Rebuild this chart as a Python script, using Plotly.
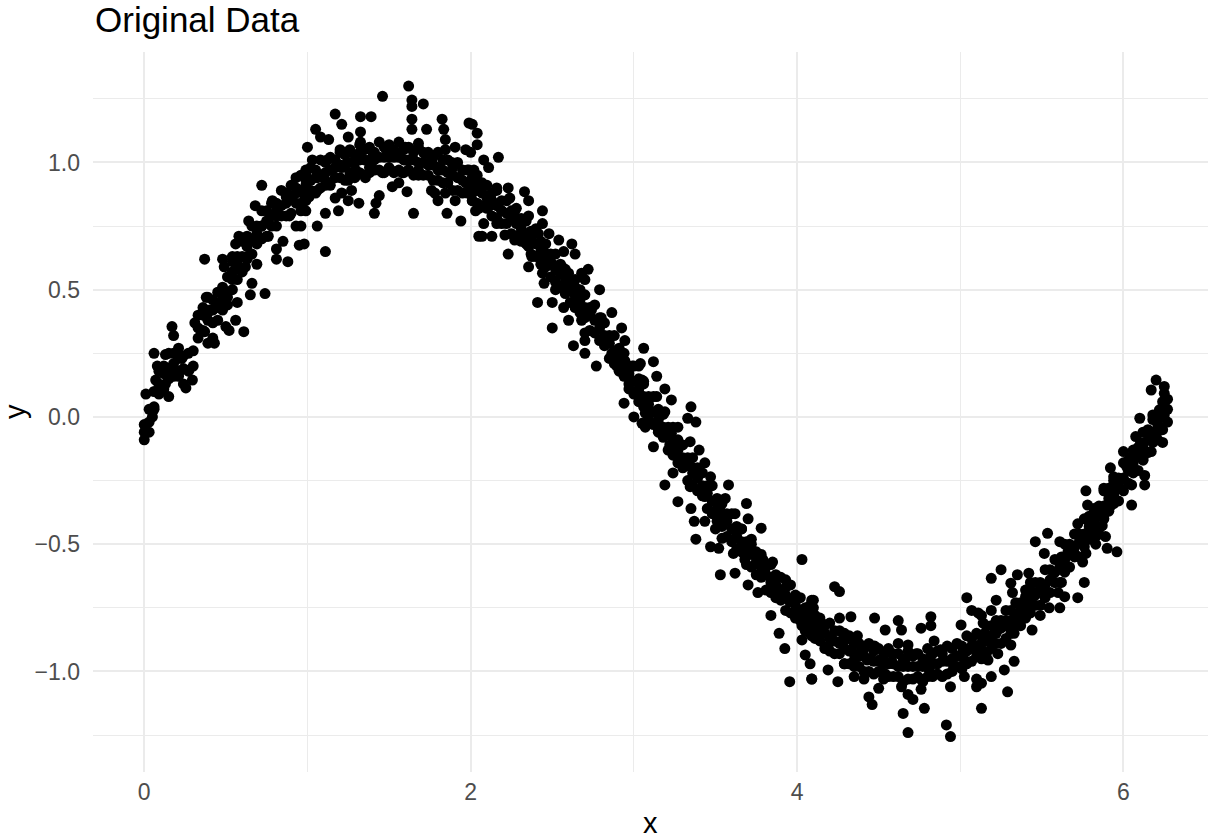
import plotly.graph_objects as go

# ---- data (x, y) ----
rise = [(0.00,-0.09),(0.00,-0.06),(0.00,-0.03),(0.05,0.00),(0.06,0.04),(0.01,0.09),(0.07,0.145),(0.11,0.105),(0.15,0.08),
        (0.06,0.25),(0.13,0.245),(0.08,0.20),(0.21,0.27),(0.23,0.23),(0.19,0.185),(0.275,0.185),(0.295,0.145),(0.255,0.114),
        (0.17,0.355),(0.18,0.32),(0.13,0.13),(0.21,0.16),(0.15,0.185),
        (0.31,0.37),(0.38,0.47),(0.36,0.41),(0.37,0.335),(0.39,0.29),(0.43,0.29),(0.42,0.31),(0.45,0.43),(0.40,0.42),
        (0.50,0.355),(0.52,0.34),(0.61,0.335),(0.56,0.38),(0.51,0.47),(0.48,0.51),(0.57,0.45),(0.54,0.50),(0.66,0.525),
        (0.65,0.48),(0.74,0.485),(0.37,0.62),(0.49,0.59),(0.48,0.62),(0.54,0.63),(0.63,0.63),(0.69,0.60),(0.62,0.59),
        (0.60,0.57),(0.56,0.68),(0.58,0.71),(0.64,0.77),(0.68,0.83),(0.72,0.91),(0.785,0.85),(0.72,0.75),(0.76,0.71),
        (0.81,0.66),(0.81,0.62),(0.88,0.61),(0.85,0.69),(0.87,0.865),(0.93,0.94),(0.97,0.88),(0.95,0.675),(0.89,0.79),
        (0.93,0.75),(0.81,0.79),(0.70,0.695)]

peak = [(0.99,0.93),(0.98,0.68),(0.99,0.81),(0.96,0.75),(1.06,0.75),(1.11,0.65),(1.00,1.06),(1.03,1.01),(1.05,1.13),
        (1.08,1.10),(1.13,1.09),(1.12,1.01),(1.17,1.19),(1.21,1.15),(1.25,1.10),(1.20,1.04),(1.325,1.18),(1.39,1.18),
        (1.325,1.12),(1.325,1.08),(1.46,1.26),(1.62,1.30),(1.64,1.245),(1.64,1.22),(1.71,1.23),(1.64,1.17),(1.64,1.13),
        (1.73,1.13),(1.825,1.17),(1.835,1.13),(1.845,1.09),(1.99,1.155),(2.04,1.115),(2.05,0.71),(1.94,0.77),(1.855,0.80),
        (1.78,0.88),(1.80,0.85),(1.65,0.80),(1.61,0.885),(1.56,0.92),(1.41,0.80),(1.44,0.87),(1.315,0.84),(1.19,0.81),
        (1.17,0.86),(1.11,0.93),(1.06,0.94),(1.06,0.89),(1.25,0.93),(1.295,0.97),(1.38,0.98),(1.40,1.04),(1.48,1.055),
        (1.51,0.97),(1.56,1.035),(1.60,1.06),(1.68,1.075),(1.72,1.035),(1.68,0.97),(1.62,0.97),(1.58,0.96),(1.60,1.01),
        (1.76,1.01),(1.80,0.97),(1.845,1.05),(1.905,1.06),(1.885,1.00),(1.93,0.94),(1.97,1.05),(1.99,0.97),(1.97,0.92),
        (2.01,0.88),(2.03,0.81),(1.905,0.85),(1.76,0.89),(1.845,0.88),(1.52,0.905),(1.46,0.96),(1.355,0.94),(1.27,0.89),
        (1.21,0.98),(1.15,0.97),(0.99,0.97),(1.01,0.865),(0.96,0.81),(1.315,1.035),(1.42,0.84),(1.21,0.88),(1.11,0.80),
        (1.25,0.85)]

fall = [(2.01,1.15),(2.04,1.07),(2.00,1.04),(2.17,1.02),(2.08,1.01),(2.11,0.98),(2.02,0.97),(2.04,0.92),(2.01,0.85),
        (2.05,0.82),(2.11,0.826),(2.16,0.90),(2.23,0.90),(2.33,0.885),(2.355,0.85),(2.24,0.86),(2.19,0.81),(2.27,0.79),
        (2.355,0.79),(2.44,0.81),(2.08,0.76),(2.16,0.76),(2.07,0.71),(2.13,0.71),(2.21,0.715),(2.27,0.695),(2.23,0.64),
        (2.355,0.67),(2.44,0.76),(2.415,0.72),(2.48,0.72),(2.54,0.695),(2.62,0.68),(2.64,0.64),(2.57,0.65),(2.46,0.643),
        (2.375,0.63),(2.355,0.59),(2.44,0.565),(2.50,0.60),(2.56,0.59),(2.60,0.565),(2.68,0.565),(2.72,0.58),(2.70,0.54),
        (2.64,0.51),(2.45,0.525),(2.52,0.50),(2.58,0.485),(2.79,0.50),(2.41,0.45),(2.50,0.45),(2.57,0.43),(2.64,0.45),
        (2.60,0.38),(2.68,0.38),(2.74,0.42),(2.80,0.39),(2.865,0.41),(2.925,0.35),(2.945,0.30),(2.50,0.35),(2.63,0.28),
        (2.70,0.30),(2.70,0.33),(2.70,0.25),(2.77,0.20),(2.82,0.30),(2.865,0.25),(2.895,0.20),(2.945,0.22),(2.99,0.20),
        (3.03,0.20),(2.97,0.13),(3.05,0.145),(2.94,0.054),(3.01,0.093),(3.00,0.00),(3.05,-0.025),(3.07,0.04)]

descent = [(3.06,0.27),(3.12,0.217),(3.04,0.21),(3.14,0.16),(3.06,0.14),(3.19,0.11),(3.14,0.08),(3.05,0.08),(3.23,0.067),
           (3.35,0.04),(3.07,0.015),(3.19,0.02),(3.33,-0.005),(3.38,-0.02),(3.27,-0.04),(3.15,-0.05),(3.07,-0.04),
           (3.23,-0.064),(3.12,-0.117),(3.22,-0.11),(3.345,-0.097),(3.255,-0.15),(3.40,-0.13),(3.435,-0.18),(3.35,-0.195),
           (3.24,-0.22),(3.19,-0.267),(3.39,-0.235),(3.47,-0.235),(3.345,-0.274),(3.435,-0.313),(3.58,-0.267),(3.27,-0.333),
           (3.35,-0.36),(3.52,-0.34),(3.56,-0.32),(3.53,-0.37),(3.62,-0.38),(3.69,-0.34),(3.70,-0.40),(3.37,-0.41),
           (3.435,-0.41),(3.50,-0.44),(3.38,-0.48),(3.47,-0.51),(3.54,-0.477),(3.66,-0.44),(3.72,-0.50),(3.78,-0.437),
           (3.52,-0.516),(3.61,-0.536),(3.68,-0.56),(3.79,-0.56),(3.85,-0.57),(3.53,-0.62),(3.62,-0.614),(3.70,-0.66),
           (3.76,-0.69),(3.84,-0.65),(3.93,-0.64),(3.88,-0.68),(4.03,-0.56),(3.955,-0.726),(3.84,-0.78),(3.985,-0.77),
           (4.09,-0.72),(4.07,-0.80),(4.03,-0.82),(3.89,-0.85),(3.925,-0.91),(4.03,-0.876),(4.09,-0.86),(4.05,-0.935),
           (4.08,-0.97),(4.09,-1.03),(3.955,-1.04)]

trough = [(4.23,-0.667),(4.26,-0.686),(4.10,-0.72),(4.10,-0.75),(4.15,-0.81),(4.09,-0.82),(4.26,-0.79),(4.33,-0.785),
          (4.475,-0.79),(4.54,-0.837),(4.62,-0.80),(4.64,-0.837),(4.76,-0.83),(4.82,-0.785),(4.82,-0.82),(5.005,-0.817),
          (5.04,-0.71),(5.07,-0.76),(5.11,-0.77),(5.14,-0.81),(4.10,-0.85),(4.19,-0.90),(4.29,-0.85),(4.37,-0.86),
          (4.27,-0.88),(4.33,-0.915),(4.39,-0.90),(4.475,-0.90),(4.56,-0.92),(4.62,-0.89),(4.68,-0.896),(4.73,-0.93),
          (4.66,-0.955),(4.58,-0.96),(4.505,-0.955),(4.43,-0.955),(4.35,-0.955),(4.29,-0.97),(4.19,-0.994),(4.09,-1.03),
          (4.25,-1.04),(4.35,-1.02),(4.41,-1.03),(4.54,-1.01),(4.50,-1.066),(4.44,-1.10),(4.46,-1.13),(4.64,-1.06),
          (4.68,-1.09),(4.76,-1.03),(4.76,-1.07),(4.71,-1.11),(4.78,-1.145),(4.65,-1.165),(4.68,-1.24),(4.80,-0.955),
          (4.81,-0.994),(4.84,-0.88),(4.88,-0.915),(4.90,-0.955),(4.96,-0.98),(5.025,-0.955),(5.07,-0.90),(5.13,-0.86),
          (5.025,-1.02),(4.94,-1.06),(5.10,-1.06),(5.10,-1.03),(4.915,-1.21),(4.94,-1.256),(5.13,-1.145),(5.17,-0.955),
          (4.82,-0.94),(4.07,-0.77)]

recovery = [(6.20,0.145),(6.17,0.106),(6.25,0.12),(6.25,0.093),(6.25,0.054),(6.22,0.028),(6.25,0.008),(6.18,0.008),
            (6.10,-0.005),(6.21,-0.058),(6.16,-0.065),(6.075,-0.077),(6.105,-0.10),(6.24,-0.10),(6.17,-0.136),(6.12,-0.16),
            (6.00,-0.136),(6.05,-0.155),(5.92,-0.20),(6.02,-0.195),(6.13,-0.23),(6.13,-0.267),(6.05,-0.267),(5.94,-0.235),
            (5.88,-0.28),(5.96,-0.28),(5.77,-0.29),(5.94,-0.31),(6.05,-0.346),(5.78,-0.346),(5.92,-0.35),(5.81,-0.385),
            (5.88,-0.385),(5.72,-0.42),(5.80,-0.43),(5.87,-0.427),(5.76,-0.483),(5.84,-0.464),(5.89,-0.47),(5.90,-0.516),
            (5.96,-0.53),(5.83,-0.50),(5.77,-0.536),(5.75,-0.57),(5.535,-0.457),(5.46,-0.49),(5.515,-0.536),(5.61,-0.49),
            (5.62,-0.55),(5.66,-0.53),(5.70,-0.536),(5.66,-0.59),(5.58,-0.61),(5.76,-0.65),(5.72,-0.71),(5.42,-0.614),
            (5.35,-0.62),(5.25,-0.60),(5.19,-0.634),(5.31,-0.653),(5.43,-0.65),(5.58,-0.65),(5.62,-0.65),(5.49,-0.68),
            (5.60,-0.69),(5.64,-0.706),(5.40,-0.706),(5.32,-0.69),(5.22,-0.72),(5.44,-0.74),(5.545,-0.75),(5.49,-0.78),
            (5.61,-0.75),(5.39,-0.75),(5.37,-0.80),(5.28,-0.80),(5.19,-0.76),(5.13,-0.78),(5.23,-0.81),(5.44,-0.837),
            (5.33,-0.85),(5.29,-0.82),(5.15,-0.85),(5.19,-0.876),(5.31,-0.896),(5.13,-0.915),(5.23,-0.93),(5.33,-0.96),
            (5.27,-0.994),(5.19,-1.02),(5.13,-1.046),(5.29,-1.08)]

# points hidden inside the solid black core of the band: x position -> y values
band_core = [
    (0.03,[0.03,-0.02,-0.06]),(0.06,[0.10,0.03]),(0.09,[0.18,0.13,0.09]),(0.12,[0.20,0.17,0.11]),
    (0.15,[0.25,0.19,0.15]),(0.18,[0.25,0.21,0.16]),(0.21,[0.23,0.17]),(0.24,[0.24,0.19,0.13]),(0.27,[0.25,0.18]),
    (0.30,[0.26,0.20]),(0.33,[0.40,0.35,0.31]),(0.36,[0.43,0.40,0.34]),(0.39,[0.47,0.41,0.38]),(0.42,[0.46,0.42,0.37]),
    (0.45,[0.49,0.44,0.38]),(0.48,[0.48,0.46,0.42]),(0.51,[0.55,0.49,0.44]),(0.54,[0.61,0.57,0.54]),
    (0.57,[0.63,0.60,0.54]),(0.60,[0.69,0.63,0.58]),(0.63,[0.71,0.67,0.62]),(0.66,[0.75,0.70,0.64]),
    (0.69,[0.75,0.72,0.68]),(0.72,[0.81,0.75,0.70]),(0.75,[0.81,0.77,0.71]),(0.78,[0.84,0.79,0.75]),
    (0.81,[0.84,0.81,0.75]),(0.84,[0.89,0.83,0.79]),(0.87,[0.88,0.84,0.79]),(0.90,[0.91,0.86,0.80]),
    (0.93,[0.90,0.88,0.84]),(0.96,[0.95,0.89,0.84]),(0.99,[0.95,0.91,0.85]),(1.02,[0.98,0.93,0.89]),
    (1.05,[0.97,0.94,0.88]),(1.08,[1.01,0.95,0.90]),(1.11,[1.00,0.96,0.91]),(1.14,[1.02,0.97,0.91]),
    (1.17,[1.01,0.98,0.94]),(1.20,[1.05,0.99,0.94]),(1.23,[1.03,0.99,0.93]),(1.26,[1.05,1.00,0.96]),
    (1.29,[1.03,1.00,0.94]),(1.32,[1.07,1.01,0.96]),(1.35,[1.05,1.01,0.95]),(1.38,[1.06,1.01,0.96]),
    (1.41,[1.04,1.01,0.97]),(1.44,[1.08,1.02,0.97]),(1.47,[1.06,1.02,0.96]),(1.50,[1.07,1.02,0.98]),
    (1.53,[1.05,1.02,0.96]),(1.56,[1.08,1.02,0.97]),(1.59,[1.05,1.01,0.96]),(1.62,[1.06,1.01,0.97]),
    (1.65,[1.04,1.01,0.95]),(1.68,[1.06,1.00,0.95]),(1.71,[1.04,1.00,0.95]),(1.74,[1.04,0.99,0.95]),
    (1.77,[1.02,0.99,0.93]),(1.80,[1.04,0.98,0.93]),(1.83,[1.01,0.97,0.92]),(1.86,[1.01,0.96,0.92]),
    (1.89,[0.98,0.95,0.89]),(1.92,[1.00,0.94,0.89]),(1.95,[0.97,0.93,0.88]),(1.98,[0.97,0.92,0.88]),
    (2.01,[0.94,0.91,0.85]),(2.04,[0.95,0.89,0.84]),(2.07,[0.92,0.88,0.83]),(2.10,[0.91,0.86,0.82]),
    (2.13,[0.88,0.85,0.79]),(2.16,[0.89,0.83,0.78]),(2.19,[0.85,0.81,0.76]),(2.22,[0.85,0.80,0.76]),
    (2.25,[0.81,0.78,0.72]),(2.28,[0.82,0.76,0.71]),(2.31,[0.78,0.74,0.69]),(2.34,[0.77,0.72,0.68]),
    (2.37,[0.73,0.70,0.64]),(2.40,[0.74,0.68,0.63]),(2.43,[0.69,0.65,0.60]),(2.46,[0.68,0.63,0.59]),
    (2.49,[0.64,0.61,0.55]),(2.52,[0.64,0.58,0.53]),(2.55,[0.60,0.56,0.51]),(2.58,[0.58,0.53,0.49]),
    (2.61,[0.54,0.51,0.45]),(2.64,[0.54,0.48,0.43]),(2.67,[0.50,0.46,0.41]),(2.70,[0.48,0.43,0.39]),
    (2.73,[0.43,0.40,0.34]),(2.76,[0.44,0.38,0.33]),(2.79,[0.39,0.35,0.30]),(2.82,[0.37,0.32,0.28]),
    (2.85,[0.32,0.29,0.23]),(2.88,[0.32,0.26,0.21]),(2.91,[0.27,0.23,0.18]),(2.94,[0.25,0.20,0.16]),
    (2.97,[0.20,0.17,0.11]),(3.00,[0.20,0.14,0.09]),(3.03,[0.15,0.11,0.06]),(3.06,[0.13,0.08,0.04]),
    (3.09,[0.08,0.05,-0.01]),(3.12,[0.08,0.02,-0.03]),(3.15,[0.03,-0.01,-0.06]),(3.18,[0.01,-0.04,-0.08]),
    (3.21,[-0.04,-0.07,-0.13]),(3.24,[-0.04,-0.10,-0.15]),(3.27,[-0.09,-0.13,-0.18]),(3.30,[-0.11,-0.16,-0.20]),
    (3.33,[-0.16,-0.19,-0.25]),(3.36,[-0.16,-0.22,-0.27]),(3.39,[-0.20,-0.24,-0.29]),(3.42,[-0.22,-0.27,-0.31]),
    (3.45,[-0.27,-0.30,-0.36]),(3.48,[-0.27,-0.33,-0.38]),(3.51,[-0.32,-0.36,-0.41]),(3.54,[-0.34,-0.39,-0.43]),
    (3.57,[-0.38,-0.41,-0.47]),(3.60,[-0.38,-0.44,-0.49]),(3.63,[-0.43,-0.47,-0.52]),(3.66,[-0.44,-0.49,-0.53]),
    (3.69,[-0.49,-0.52,-0.58]),(3.72,[-0.48,-0.54,-0.59]),(3.75,[-0.53,-0.57,-0.62]),(3.78,[-0.54,-0.59,-0.63]),
    (3.81,[-0.59,-0.62,-0.68]),(3.84,[-0.58,-0.64,-0.69]),(3.87,[-0.62,-0.66,-0.71]),(3.90,[-0.63,-0.68,-0.72]),
    (3.93,[-0.67,-0.70,-0.76]),(3.96,[-0.66,-0.72,-0.77]),(3.99,[-0.70,-0.74,-0.79]),(4.02,[-0.71,-0.76,-0.80]),
    (4.05,[-0.75,-0.78,-0.84]),(4.08,[-0.74,-0.80,-0.85]),(4.11,[-0.78,-0.82,-0.87]),(4.14,[-0.79,-0.84,-0.88]),
    (4.17,[-0.82,-0.85,-0.91]),(4.20,[-0.81,-0.87,-0.92]),(4.23,[-0.84,-0.88,-0.93]),(4.26,[-0.84,-0.89,-0.93]),
    (4.29,[-0.88,-0.91,-0.97]),(4.32,[-0.86,-0.92,-0.97]),(4.35,[-0.89,-0.93,-0.98]),(4.38,[-0.89,-0.94,-0.98]),
    (4.41,[-0.91,-0.94,-1.00]),(4.44,[-0.89,-0.95,-1.00]),(4.47,[-0.92,-0.96,-1.01]),(4.50,[-0.91,-0.96,-1.00]),
    (4.53,[-0.94,-0.97,-1.03]),(4.56,[-0.91,-0.97,-1.02]),(4.59,[-0.93,-0.97,-1.02]),(4.62,[-0.93,-0.98,-1.02]),
    (4.65,[-0.95,-0.98,-1.04]),(4.68,[-0.92,-0.98,-1.03]),(4.71,[-0.94,-0.98,-1.03]),(4.74,[-0.93,-0.98,-1.02]),
    (4.77,[-0.95,-0.98,-1.04]),(4.80,[-0.91,-0.97,-1.02]),(4.83,[-0.93,-0.97,-1.02]),(4.86,[-0.92,-0.97,-1.01]),
    (4.89,[-0.93,-0.96,-1.02]),(4.92,[-0.90,-0.96,-1.01]),(4.95,[-0.91,-0.95,-1.00]),(4.98,[-0.89,-0.94,-0.98]),
    (5.01,[-0.90,-0.93,-0.99]),(5.04,[-0.86,-0.92,-0.97]),(5.07,[-0.87,-0.91,-0.96]),(5.10,[-0.85,-0.90,-0.94]),
    (5.13,[-0.86,-0.89,-0.95]),(5.16,[-0.82,-0.88,-0.93]),(5.19,[-0.82,-0.86,-0.91]),(5.22,[-0.80,-0.85,-0.89]),
    (5.25,[-0.80,-0.83,-0.89]),(5.28,[-0.76,-0.82,-0.87]),(5.31,[-0.76,-0.80,-0.85]),(5.34,[-0.73,-0.78,-0.82]),
    (5.37,[-0.73,-0.76,-0.82]),(5.40,[-0.68,-0.74,-0.79]),(5.43,[-0.68,-0.72,-0.77]),(5.46,[-0.65,-0.70,-0.74]),
    (5.49,[-0.65,-0.68,-0.74]),(5.52,[-0.60,-0.66,-0.71]),(5.55,[-0.60,-0.64,-0.69]),(5.58,[-0.56,-0.61,-0.65]),
    (5.61,[-0.56,-0.59,-0.65]),(5.64,[-0.50,-0.56,-0.61]),(5.67,[-0.50,-0.54,-0.59]),(5.70,[-0.46,-0.51,-0.55]),
    (5.73,[-0.46,-0.49,-0.55]),(5.76,[-0.40,-0.46,-0.51]),(5.79,[-0.39,-0.43,-0.48]),(5.82,[-0.36,-0.41,-0.45]),
    (5.85,[-0.35,-0.38,-0.44]),(5.88,[-0.29,-0.35,-0.40]),(5.91,[-0.28,-0.32,-0.37]),(5.94,[-0.25,-0.30,-0.34]),
    (5.97,[-0.24,-0.27,-0.33]),(6.00,[-0.18,-0.24,-0.29]),(6.03,[-0.17,-0.21,-0.26]),(6.06,[-0.13,-0.18,-0.22]),
    (6.09,[-0.12,-0.15,-0.21]),(6.12,[-0.06,-0.12,-0.17]),(6.15,[-0.05,-0.09,-0.14]),(6.18,[-0.01,-0.06,-0.10]),
    (6.21,[0.00,-0.03,-0.09]),(6.24,[0.06,0.00,-0.05]),(6.27,[0.07,0.03,-0.02])]

x_ticks = [0, 2, 4, 6]
y_ticks = [-1.0, -0.5, 0.0, 0.5, 1.0]
y_tick_text = ["\u22121.0", "\u22120.5", "0.0", "0.5", "1.0"]

# ---- build the point table ----
xs, ys = [], []
for seg in (rise, peak, fall, descent, trough, recovery):
    for px, py in seg:
        xs.append(px); ys.append(py)
for px, yl in band_core:
    for py in yl:
        xs.append(px); ys.append(py)

FONT = "Liberation Sans, Arial, Helvetica, sans-serif"
GRID = "#EBEBEB"

fig = go.Figure()
fig.add_trace(go.Scatter(x=xs, y=ys, mode="markers",
                         marker=dict(color="black", size=11, line=dict(width=0)),
                         hoverinfo="skip", showlegend=False))

L, R, T, B = 93, 8, 52, 68
W, H = 1216, 840

fig.update_layout(
    width=W, height=H,
    margin=dict(l=L, r=R, t=T, b=B, pad=0),
    paper_bgcolor="white", plot_bgcolor="white",
    font=dict(family=FONT, color="black"),
    showlegend=False,
)
fig.update_xaxes(
    range=[-0.314, 6.518], tickvals=x_ticks, ticktext=[str(v) for v in x_ticks],
    showgrid=True, gridcolor=GRID, gridwidth=1.7, zeroline=False, showline=False,
    ticks="", ticklabelstandoff=4,
    tickfont=dict(family=FONT, size=23, color="#4D4D4D"),
    minor=dict(tickvals=[1, 3, 5], showgrid=True, gridcolor=GRID, gridwidth=0.9),
)
fig.update_yaxes(
    range=[-1.395, 1.434], tickvals=y_ticks, ticktext=y_tick_text,
    showgrid=True, gridcolor=GRID, gridwidth=1.7, zeroline=False, showline=False,
    ticks="", ticklabelstandoff=12,
    tickfont=dict(family=FONT, size=23, color="#4D4D4D"),
    minor=dict(tickvals=[-1.25, -0.75, -0.25, 0.25, 0.75, 1.25], showgrid=True, gridcolor=GRID, gridwidth=0.9),
)

ph = H - T - B
def py_to_paper(p):
    return (H - B - p) / ph

fig.add_annotation(text="Original Data", xref="paper", yref="paper", x=0, xanchor="left",
                   y=py_to_paper(20), yanchor="middle", showarrow=False,
                   font=dict(family=FONT, size=35, color="black"))
fig.add_annotation(text="x", xref="paper", yref="paper", x=0.5, xanchor="center",
                   y=py_to_paper(823), yanchor="middle", showarrow=False,
                   font=dict(family=FONT, size=29, color="black"))
fig.add_annotation(text="y", xref="paper", yref="paper", x=-(L - 15) / (W - L - R), xanchor="center",
                   y=py_to_paper(412), yanchor="middle", showarrow=False, textangle=-90,
                   font=dict(family=FONT, size=29, color="black"))

# remove the browser's default 8px page margin so the figure sits at the window's corner
fig.write_html("out.html", config={"displayModeBar": False},
               post_script="document.body.style.margin='0';document.body.style.overflow='hidden';")
